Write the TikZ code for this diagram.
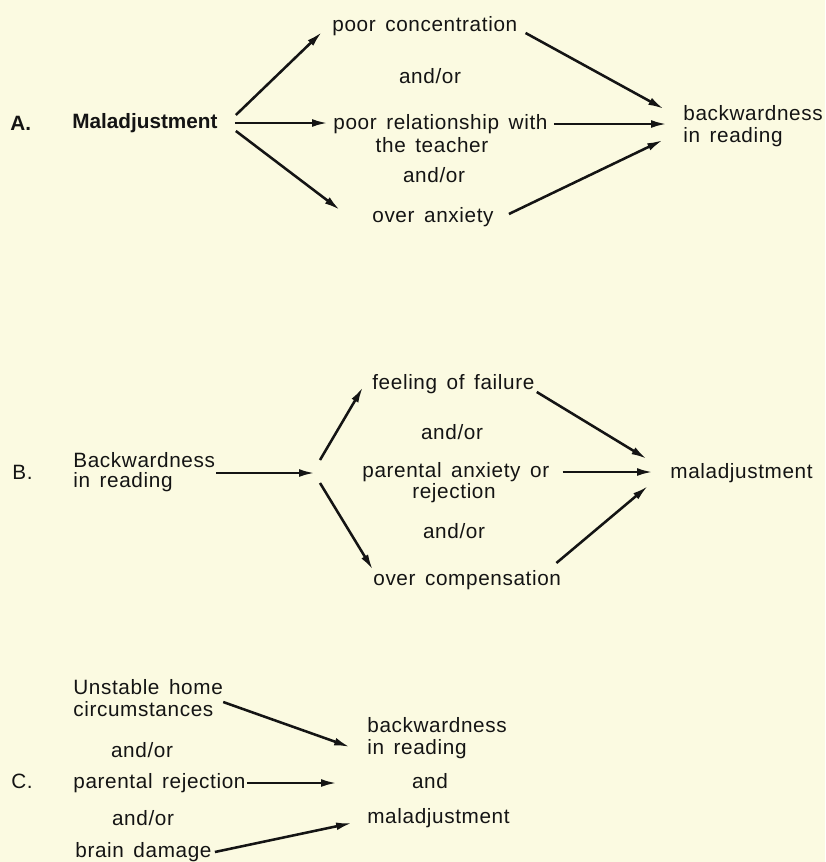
\documentclass[tikz,border=0pt]{standalone}
\usepackage{fontspec}
\setmainfont[LetterSpace=3,WordSpace=1.5]{Liberation Sans}
\usetikzlibrary{positioning,arrows.meta,calc}
\definecolor{paper}{RGB}{251,250,225}
\definecolor{ink}{RGB}{20,20,20}

\begin{document}
\begin{tikzpicture}[x=0.02cm,y=-0.02cm,
  lbl/.style={inner sep=0pt,anchor=west,text=ink,align=left,font=\fontsize{11.8pt}{12.5pt}\selectfont},
  mid/.style={lbl,anchor=center,align=center},
  arr/.style={draw=ink,line width=1.45pt,-{Latex[length=9pt,width=4.4pt]}}]
  \fill[paper] (0,0) rectangle (825,862);

  % A
  \node[lbl,font=\fontsize{11.8pt}{12.5pt}\bfseries\addfontfeature{LetterSpace=0}] (labA) at (10,123) {A.};
  \node[lbl,font=\fontsize{11.8pt}{12.5pt}\bfseries\addfontfeature{LetterSpace=0}] (mal) at (72,123) {Maladjustment};
  \node[lbl] (pc) at (332,26) {poor concentration};
  \node[lbl] (prt) at (333,124) {poor relationship with};
  \node[mid] (tch) at (432,145) {the teacher};
  \node[lbl] (oa) at (372,217) {over anxiety};
  \node[lbl] (bwr) at (683,126) {backwardness\\in reading};
  \draw[arr] ($(mal.east)+(18,-8)$) -- ($(pc.west)+(-10,6)$);
  \draw[arr] ($(mal.east)+(17,0)$) -- ($(mal.east -| prt.west)+(-5,0)$);
  \draw[arr] ($(mal.east)+(18,8)$) -- ($(oa.west)+(-32,-7)$);
  \draw[arr] ($(pc.east)+(8,7)$) -- ($(bwr.west)+(-19,-17)$);
  \draw[arr] ($(prt.east)+(6,0)$) -- ($(prt.east -| bwr.west)+(-16,0)$);
  \draw[arr] ($(oa.east)+(15,-3)$) -- ($(bwr.west)+(-20,14)$);

  % B
  \node[lbl] (labB) at (12,472) {B.};
  \node[lbl,font=\fontsize{11.8pt}{11.4pt}\selectfont] (bkw) at (73,472) {Backwardness\\in reading};
  \coordinate (fork) at (318,472);
  \node[lbl] (ff) at (372,384) {feeling of failure};
  \node[lbl] (pa) at (362,472) {parental anxiety or};
  \node[mid] (rej) at (454,493) {rejection};
  \node[lbl] (oc) at (373,580) {over compensation};
  \node[lbl] (bmal) at (670,473) {maladjustment};
  \draw[arr] ($(bkw.east)+(1,1)$) -- ($(fork)+(-3,1)$);
  \draw[arr] ($(fork)+(2,-12)$) -- ($(ff.west)+(-9,3)$);
  \draw[arr] ($(fork)+(2,11)$) -- ($(oc.west)+(0,-10)$);
  \draw[arr] ($(ff.east)+(2,8)$) -- ($(bmal.west)+(-23,-14)$);
  \draw[arr] ($(pa.east)+(13,0)$) -- ($(pa.east -| bmal.west)+(-17,0)$);
  \draw[arr] ($(oc.east)+(-5,-17)$) -- ($(bmal.west)+(-22,13)$);

  % C
  \node[lbl] (labC) at (11,781) {C.};
  \node[lbl] (uh) at (73,698) {Unstable home\\circumstances};
  \node[lbl] (prj) at (73,783) {parental rejection};
  \node[lbl] (bd) at (75,852) {brain damage};
  \node[lbl] (cbr) at (367,738) {backwardness\\in reading};
  \node[mid] (cand) at (430,781) {and};
  \node[lbl] (cmal) at (367,818) {maladjustment};
  \draw[arr] ($(uh.east)+(0,4)$) -- ($(cbr.west)+(-17,9)$);
  \draw[arr] ($(prj.east)+(1,0)$) -- ($(prj.east -| cmal.west)+(-30,0)$);
  \draw[arr] ($(bd.east)+(3,0)$) -- ($(cmal.west)+(-15,5)$);

  \foreach \n/\x/\y in {ao1/430/76, ao2/434/175, bao1/452/432, bao2/454/531, cao1/142/750, cao2/143/818}
    \node[mid] (\n) at (\x,\y) {and/or};
\end{tikzpicture}
\end{document}
